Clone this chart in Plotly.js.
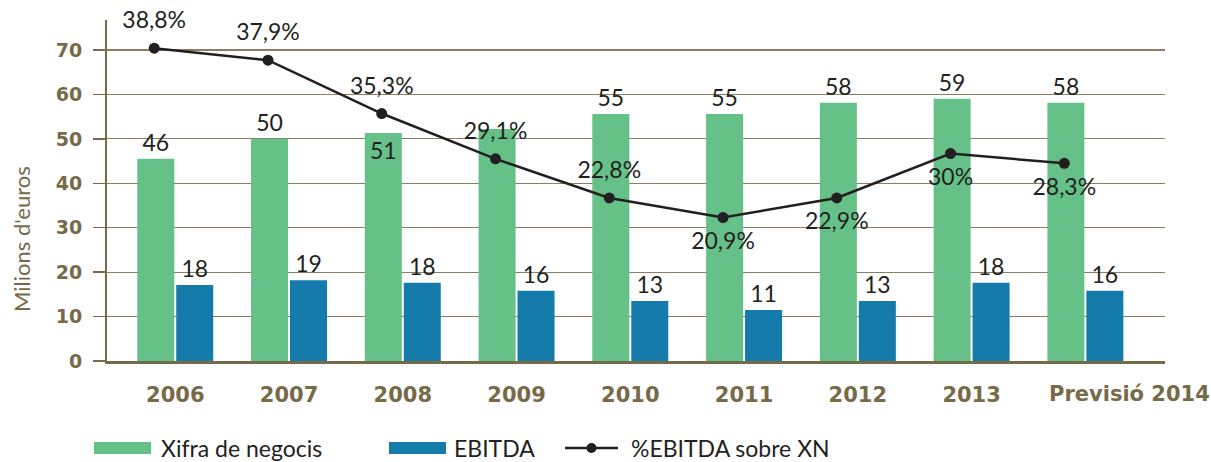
<!DOCTYPE html>
<html>
<head>
<meta charset="utf-8">
<script src="https://cdn.plot.ly/plotly-3.0.1.min.js"></script>
<style>html,body{margin:0;padding:0;background:#fff;}#chart{width:1211px;height:462px;}</style>
</head>
<body>
<div id="chart"></div>
<script>
// ---- data ----
const categories = ['2006','2007','2008','2009','2010','2011','2012','2013','Previsió 2014'];
const xifraNegocis = [45.5, 50.0, 51.3, 52.2, 55.6, 55.6, 58.1, 59.0, 58.1];
const xifraLabels  = ['46','50','51','','55','55','58','59','58'];
const ebitda       = [17.1, 18.2, 17.6, 15.8, 13.5, 11.5, 13.5, 17.6, 15.8];
const ebitdaLabels = ['18','19','18','16','13','11','13','18','16'];
// line point positions as drawn on the millions axis, and their % labels
const pctPosition  = [70.4, 67.7, 55.7, 45.5, 36.7, 32.3, 36.7, 46.7, 44.5];
const pctLabels    = ['38,8%','37,9%','35,3%','29,1%','22,8%','20,9%','22,9%','30%','28,3%'];
const seriesNames  = ['Xifra de negocis','EBITDA','%EBITDA sobre XN'];
const yTitle = "Milions d'euros";

// ---- styles ----
const GREEN = '#66c188', BLUE = '#157bab', DARK = '#231f20', OLIVE = '#776a48', GRID = '#8a7f60';
const FONT = 'Lato, "Open Sans", sans-serif';
const BOLD = '"DejaVu Sans", sans-serif';

const traces = [
  {
    type: 'bar', name: seriesNames[0], x: categories, y: xifraNegocis,
    marker: {color: GREEN},
    text: xifraLabels,
    textposition: xifraLabels.map((t, i) => i === 2 ? 'inside' : 'outside'),
    insidetextanchor: 'end',
    textfont: {family: FONT, size: 23, color: DARK},
    insidetextfont: {family: FONT, size: 23, color: DARK},
    outsidetextfont: {family: FONT, size: 23, color: DARK},
    constraintext: 'none', textangle: 0, cliponaxis: false,
    hoverinfo: 'none', showlegend: false
  },
  {
    type: 'bar', name: seriesNames[1], x: categories, y: ebitda,
    marker: {color: BLUE},
    text: ebitdaLabels, textposition: 'outside',
    textfont: {family: FONT, size: 23, color: DARK},
    constraintext: 'none', textangle: 0, cliponaxis: false,
    hoverinfo: 'none', showlegend: false
  },
  {
    type: 'scatter', mode: 'lines+markers', name: seriesNames[2],
    x: categories, y: pctPosition, xaxis: 'x2',
    line: {color: DARK, width: 2.5},
    marker: {color: DARK, size: 11},
    cliponaxis: false, hoverinfo: 'none', showlegend: false
  },
  {
    type: 'scatter', mode: 'markers+text', name: seriesNames[2] + ' labels',
    x: categories, y: pctPosition, xaxis: 'x2',
    marker: {color: 'rgba(0,0,0,0)', size: 21},
    text: pctLabels,
    textposition: pctLabels.map((t, i) => i < 5 ? 'top center' : 'bottom center'),
    textfont: {family: FONT, size: 23, color: DARK},
    cliponaxis: false, hoverinfo: 'none', showlegend: false
  }
];

// manual legend (paper coordinates)
const W = 1058, H = 341, L = 107, B = 361;
const px = v => (v - L) / W;
const py = v => (B - v) / H;
const shapes = [
  {type: 'rect', xref: 'paper', yref: 'paper', x0: px(94), x1: px(151), y0: py(442), y1: py(454), fillcolor: GREEN, line: {width: 0}},
  {type: 'rect', xref: 'paper', yref: 'paper', x0: px(389), x1: px(446), y0: py(442), y1: py(454), fillcolor: BLUE, line: {width: 0}},
  {type: 'line', xref: 'paper', yref: 'paper', x0: px(565), x1: px(618), y0: py(448), y1: py(448), line: {color: DARK, width: 2.5}},
  {type: 'circle', xref: 'paper', yref: 'paper', xsizemode: 'pixel', ysizemode: 'pixel',
   xanchor: px(591.5), yanchor: py(448), x0: -5, x1: 5, y0: -5, y1: 5, fillcolor: DARK, line: {width: 0}}
];
const legendFont = {family: FONT, size: 23, color: DARK};
const lastCat = categories[categories.length - 1];
const tickFont = {family: BOLD, size: 21, color: OLIVE, weight: 'bold'};
const annotations = [
  {xref: 'paper', yref: 'paper', x: px(159), y: py(448), xanchor: 'left', yanchor: 'middle', text: seriesNames[0], showarrow: false, font: legendFont},
  {xref: 'paper', yref: 'paper', x: px(452), y: py(448), xanchor: 'left', yanchor: 'middle', text: seriesNames[1], showarrow: false, font: legendFont},
  {xref: 'paper', yref: 'paper', x: px(629), y: py(448), xanchor: 'left', yanchor: 'middle', text: seriesNames[2], showarrow: false, font: legendFont},
  {xref: 'paper', yref: 'paper', x: px(21), y: py(239), xanchor: 'center', yanchor: 'middle', textangle: -90,
   text: yTitle, showarrow: false, font: {family: FONT, size: 22, color: OLIVE}},
  // last category label sits shifted right in the reference
  {xref: 'x', yref: 'paper', x: lastCat, y: py(394), xanchor: 'center', yanchor: 'middle', xshift: 44,
   text: lastCat, showarrow: false, font: tickFont}
];

const layout = {
  width: 1211, height: 462,
  margin: {l: 107, r: 46, t: 20, b: 101},
  paper_bgcolor: '#ffffff', plot_bgcolor: '#ffffff',
  barmode: 'group', bargap: 0.315, bargroupgap: 0.05,
  showlegend: false,
  xaxis: {
    type: 'category', range: [-0.6, 8.7], fixedrange: true,
    tickvals: categories,
    ticktext: categories.map(c => c === lastCat ? '' : c),
    showgrid: false, zeroline: false,
    showline: true, linecolor: OLIVE, linewidth: 2.5,
    ticks: '', ticklabelstandoff: 13,
    tickfont: tickFont
  },
  xaxis2: {
    type: 'category', overlaying: 'x', range: [-0.415, 8.885],
    visible: false, showgrid: false, zeroline: false, fixedrange: true
  },
  yaxis: {
    range: [0, 76.75], fixedrange: true,
    tickvals: [0,10,20,30,40,50,60,70],
    showgrid: true, gridcolor: GRID, gridwidth: 1.2,
    zeroline: false,
    showline: true, linecolor: OLIVE, linewidth: 2,
    ticks: 'outside', ticklen: 12, tickwidth: 1.5, tickcolor: OLIVE,
    ticklabelstandoff: 7,
    tickfont: {family: BOLD, size: 19, color: OLIVE, weight: 'bold'}
  },
  shapes: shapes,
  annotations: annotations
};

Plotly.newPlot('chart', traces, layout, {displayModeBar: false, staticPlot: true});
</script>
</body>
</html>
